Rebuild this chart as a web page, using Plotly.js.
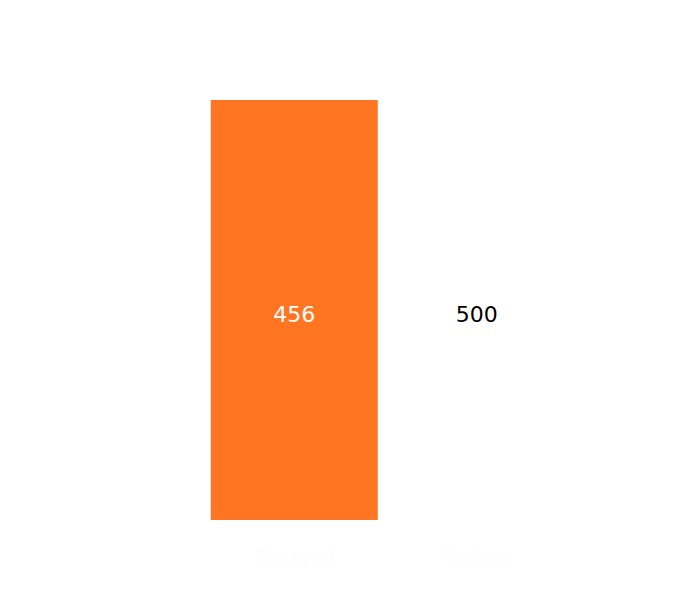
<!DOCTYPE html>
<html>
<head>
<meta charset="utf-8">
<script src="https://cdn.plot.ly/plotly-3.0.1.min.js"></script>
<style>
  html, body { margin: 0; padding: 0; background: #fff; }
  #chart { width: 699px; height: 604px; }
</style>
</head>
<body>
<div id="chart"></div>
<script>
var stages = ['Engaged', 'Visitors'];
var counts = [456, 500];
var barColors = ['#FF7521', '#FFFFFF'];
var labelColors = ['#FFFFFF', '#000000'];

var trace = {
  type: 'funnel',
  orientation: 'v',
  x: stages,
  y: counts,
  textinfo: 'value',
  textposition: 'inside',
  insidetextanchor: 'middle',
  insidetextfont: {
    family: '"DejaVu Sans", verdana, sans-serif',
    size: 22,
    color: labelColors
  },
  marker: {
    color: barColors,
    line: { width: 0 }
  },
  connector: { visible: false },
  hoverinfo: 'x+y'
};

var layout = {
  width: 699,
  height: 604,
  margin: {
    l: 203,
    r: 131,
    t: 100,
    b: 84,
    pad: 0
  },
  funnelgap: 0.085,
  showlegend: false,
  paper_bgcolor: '#fff',
  plot_bgcolor: '#fff',
  font: {
    family: '"DejaVu Sans", verdana, sans-serif'
  },
  xaxis: {
    type: 'category',
    showgrid: false,
    zeroline: false,
    showline: false,
    ticks: '',
    ticklabelstandoff: 24,
    tickfont: {
      size: 18,
      color: '#FDFDFD'
    }
  },
  yaxis: {
    visible: false,
    range: [-206, 214]
  }
};

Plotly.newPlot('chart', [trace], layout, { displayModeBar: false, staticPlot: true });
</script>
</body>
</html>
